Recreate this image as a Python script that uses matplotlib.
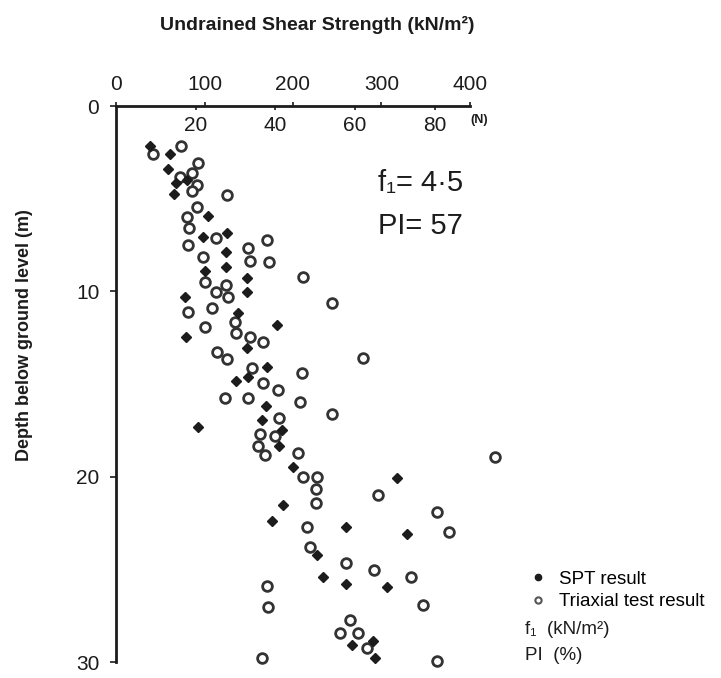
import matplotlib
matplotlib.use("Agg")
import matplotlib.pyplot as plt
from matplotlib.lines import Line2D

plt.rcParams['font.family'] = ['Liberation Sans', 'DejaVu Sans']

# SPT results: blow count N vs depth (m)
spt_n = [8.5, 13.6, 13.1, 17.8, 15.1, 14.6, 23.1, 21.8, 27.9, 27.6,
         27.6, 22.3, 32.9, 32.9, 17.3, 30.6, 40.4, 17.6, 32.9, 37.9,
         30.1, 33.1, 37.7, 36.7, 20.6, 41.7, 40.9, 44.4, 70.6, 41.9,
         39.2, 57.8, 73.1, 50.5, 52.0, 57.8, 68.0, 64.5, 59.3, 65.0]
spt_depth = [2.16, 2.59, 3.40, 3.99, 4.15, 4.74, 5.93, 7.06, 6.85, 7.87,
             8.68, 8.89, 9.27, 10.03, 10.30, 11.16, 11.81, 12.45, 13.05, 14.07,
             14.82, 14.61, 16.17, 16.93, 17.30, 17.47, 18.33, 19.46, 20.05, 21.51,
             22.37, 22.70, 23.07, 24.20, 25.44, 25.77, 25.98, 28.89, 29.06, 29.76]

# Triaxial test results: undrained shear strength (kN/m2) vs depth (m)
tri_cu = [42, 73, 93, 86, 72, 92, 86, 125, 92, 80,
          83, 113, 171, 81, 149, 98, 151, 173, 101, 211,
          124, 113, 127, 81, 108, 244, 134, 101, 136, 151,
          166, 114, 125, 279, 154, 210, 166, 183, 123, 149,
          208, 244, 184, 163, 180, 160, 168, 206, 428, 211,
          227, 226, 226, 296, 363, 216, 376, 219, 260, 292,
          333, 171, 172, 347, 264, 253, 273, 284, 165, 363]
tri_depth = [2.59, 2.16, 3.07, 3.61, 3.83, 4.26, 4.58, 4.80, 5.44, 5.98,
             6.58, 7.12, 7.22, 7.49, 7.65, 8.14, 8.36, 8.41, 9.49, 9.22,
             9.65, 10.03, 10.30, 11.11, 10.89, 10.62, 11.64, 11.91, 12.24, 12.45,
             12.72, 13.26, 13.64, 13.58, 14.12, 14.39, 14.93, 15.31, 15.74, 15.74,
             15.96, 16.60, 16.82, 17.68, 17.79, 18.33, 18.81, 18.71, 18.92, 20.0,
             20.0, 20.65, 21.40, 20.97, 21.89, 22.70, 22.96, 23.77, 24.64, 25.01,
             25.44, 25.88, 27.01, 26.95, 27.76, 28.41, 28.41, 29.27, 29.81, 29.97]

cu_ticks = [0, 100, 200, 300, 400]
n_ticks = [20, 40, 60, 80]
depth_ticks = [0, 10, 20, 30]
f1 = 4.5

ink = '#1c1c1c'
fig = plt.figure(figsize=(7.21, 6.78), dpi=100)
ax = fig.add_axes([116 / 721, 16 / 678, 389.4 / 721, 556 / 678])

# N scale (SPT) sharing the top line
ax2 = ax.twiny()
ax2.set_xlim(0, 440 / f1)
ax2.plot(spt_n, spt_depth, 'D', ms=5.5, color=ink, ls='none',
         clip_on=False, zorder=4)
ax2.set_xticks(n_ticks)
ax2.tick_params(axis='x', direction='in', length=3, width=1.2, pad=-21,
                labelsize=15, colors=ink)
for s in ax2.spines.values():
    s.set_visible(False)

ax.plot(tri_cu, tri_depth, 'o', ms=7, mfc='white', mec='#333333', mew=2,
        ls='none', clip_on=False, zorder=3)
ax.set_xlim(0, 440)
ax.set_ylim(30, 0)

ax.xaxis.set_ticks_position('top')
ax.xaxis.set_label_position('top')
ax.set_xticks(cu_ticks)
ax.set_yticks(depth_ticks)
ax.tick_params(axis='x', direction='out', length=3, width=1.2, pad=6,
               labelsize=15, colors=ink, labeltop=True, labelbottom=False)
ax.tick_params(axis='y', direction='out', length=4, width=1.2, pad=8,
               labelsize=15, colors=ink)
for s in ['right', 'bottom']:
    ax.spines[s].set_visible(False)
ax.spines['top'].set_bounds(0, 400)
ax.spines['left'].set_bounds(0, 30)
for s in ['top', 'left']:
    ax.spines[s].set_linewidth(2)
    ax.spines[s].set_color(ink)

ax.text((479 - 116) / 389.4, 1 - (120 - 106) / 556, '(N)', transform=ax.transAxes,
        fontsize=9, fontweight='bold', ha='center', va='center', color=ink)

fig.text(317 / 721, 1 - 25 / 678, 'Undrained Shear Strength (kN/m²)',
         ha='center', va='center', fontsize=14, fontweight='bold', color=ink)
fig.text(25 / 721, 1 - 335 / 678, 'Depth below ground level (m)',
         ha='center', va='center', rotation=90, fontsize=13,
         fontweight='bold', color=ink)

fig.text(378 / 721, 1 - 183 / 678, 'f₁= 4·5', ha='left', va='center',
         fontsize=21, color=ink)
fig.text(378 / 721, 1 - 226 / 678, 'PI= 57', ha='left', va='center',
         fontsize=21, color=ink)

handles = [Line2D([], [], marker='o', ms=4.5, color=ink, ls='none'),
           Line2D([], [], marker='o', ms=4.5, mfc='white', mec='#555555',
                  mew=1.5, ls='none')]
fig.legend(handles, ['SPT result', 'Triaxial test result'],
           loc='center left', bbox_to_anchor=(528.6 / 721, 1 - 590.5 / 678),
           frameon=False, fontsize=13.5, handlelength=1.0, handletextpad=0.6,
           labelspacing=0.3, borderpad=0, borderaxespad=0)
fig.text(525 / 721, 1 - 630 / 678, 'f₁  (kN/m²)', ha='left', va='center',
         fontsize=13.5, color=ink)
fig.text(525 / 721, 1 - 656 / 678, 'PI  (%)', ha='left', va='center',
         fontsize=13.5, color=ink)

fig.savefig('out.png', dpi=100)
